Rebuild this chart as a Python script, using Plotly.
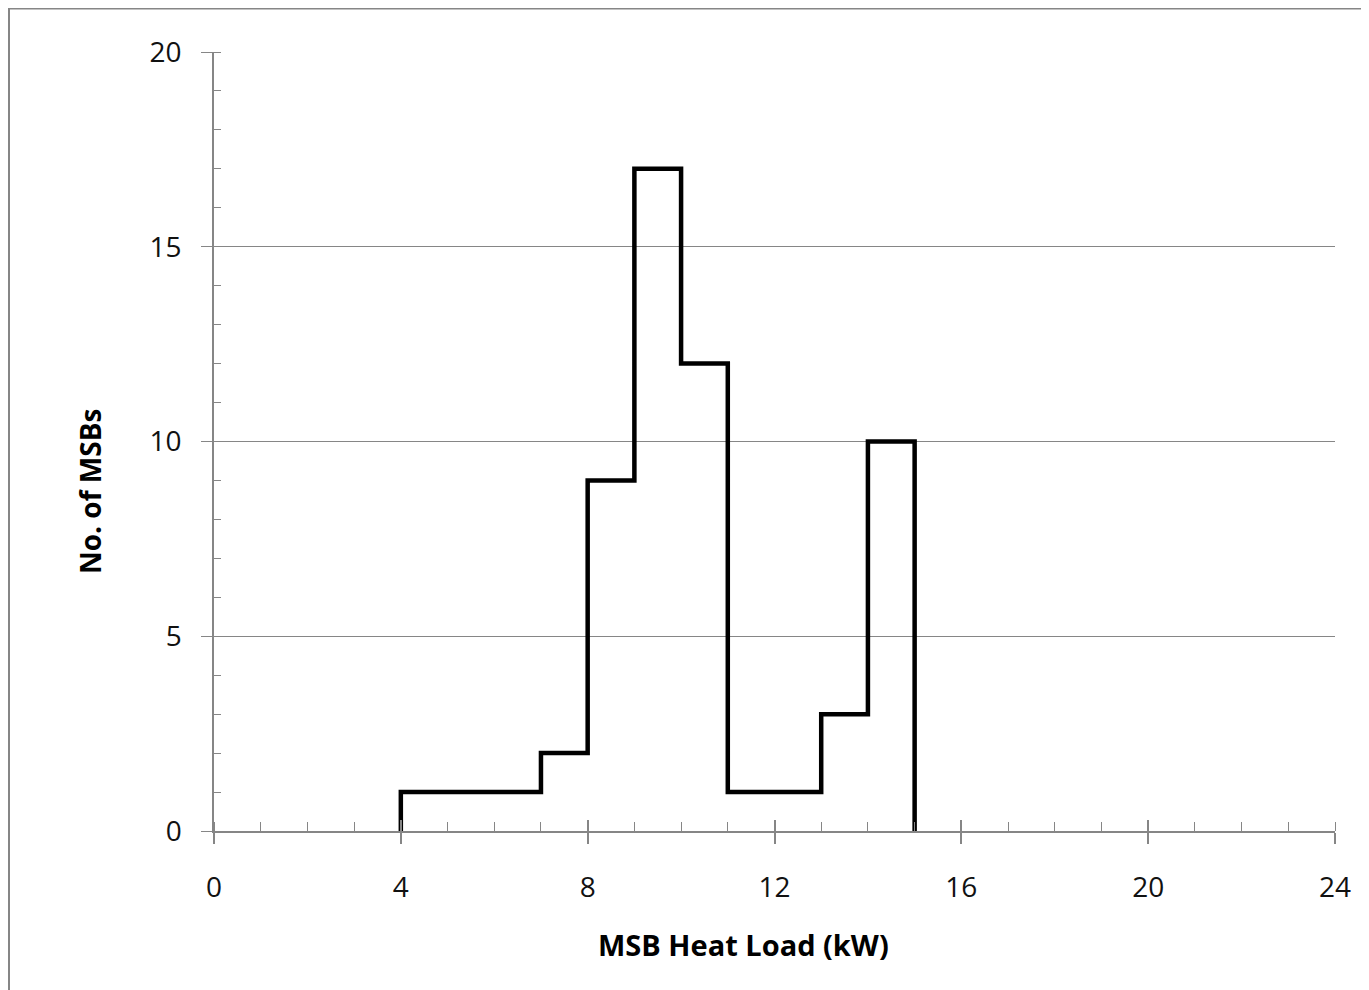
import plotly.graph_objects as go

# Histogram data: bin edges (kW) and counts of MSBs
bin_edges = [4, 5, 6, 7, 8, 9, 10, 11, 12, 13, 14, 15]
counts = [1, 1, 1, 2, 9, 17, 12, 1, 1, 3, 10]

x_ticks = [0, 4, 8, 12, 16, 20, 24]
y_ticks = [0, 5, 10, 15, 20]

x_title = "MSB Heat Load (kW)"
y_title = "No. of MSBs"

xs = [bin_edges[0]] + bin_edges[:-1] + [bin_edges[-1], bin_edges[-1]]
ys = [0] + counts + [counts[-1], 0]

GRAY = "#868686"
FONT = "Open Sans"
PW, PH = 1121, 779  # plot area size in px

fig = go.Figure()
fig.add_trace(go.Scatter(x=xs, y=ys, mode="lines", line=dict(color="black", width=4.5, shape="hv"),
                         showlegend=False, hoverinfo="skip"))
# invisible trace for overlay axis (cross ticks on x)
fig.add_trace(go.Scatter(x=[0, 24], y=[0, 0], xaxis="x2", mode="lines",
                         line=dict(width=0), showlegend=False, hoverinfo="skip"))

fig.update_layout(
    width=1369, height=990,
    margin=dict(l=206, r=42, t=44, b=167),
    plot_bgcolor="white", paper_bgcolor="white",
    font=dict(family=FONT, size=28, color="#111111"),
    xaxis=dict(range=[0, 24], tickvals=x_ticks, showgrid=False, zeroline=False,
               showline=True, linecolor=GRAY, linewidth=1.5,
               ticks="outside", ticklen=11, tickcolor=GRAY, tickwidth=1.5,
               ticklabelstandoff=20,
               minor=dict(dtick=1, ticks="inside", ticklen=9, tickcolor=GRAY, tickwidth=1.2)),
    xaxis2=dict(range=[0, 24], overlaying="x", anchor="y", side="bottom", tickvals=x_ticks,
                showticklabels=False, ticks="inside", ticklen=11, tickcolor=GRAY, tickwidth=1.5,
                showgrid=False, zeroline=False, showline=False),
    yaxis=dict(range=[0, 20], tickvals=y_ticks, showgrid=True, gridcolor=GRAY, gridwidth=1.2,
               zeroline=False, showline=True, linecolor=GRAY, linewidth=1.5,
               ticks="outside", ticklen=11, tickcolor=GRAY, tickwidth=1.2,
               ticklabelstandoff=14,
               minor=dict(dtick=1, ticks="inside", ticklen=7, tickcolor=GRAY, tickwidth=1.2)),
    annotations=[
        dict(text="<b>" + x_title + "</b>", xref="paper", yref="paper",
             x=(743 - 214) / PW, y=-113 / PH, xanchor="center", yanchor="middle",
             showarrow=False, font=dict(size=29, color="black")),
        dict(text="<b>" + y_title + "</b>", xref="paper", yref="paper",
             x=(90 - 214) / PW, y=(831 - 492) / PH, xanchor="center", yanchor="middle",
             textangle=-90, showarrow=False, font=dict(size=28, color="black")),
    ],
    shapes=[
        dict(type="line", xref="paper", yref="paper", x0=-207/PW, x1=1.2, y0=1+44/PH, y1=1+44/PH,
             line=dict(color=GRAY, width=3)),
        dict(type="line", xref="paper", yref="paper", x0=-205.5/PW, x1=-205.5/PW, y0=1+45/PH, y1=-0.3,
             line=dict(color=GRAY, width=3)),
    ],
)

fig.write_html("out.html")
